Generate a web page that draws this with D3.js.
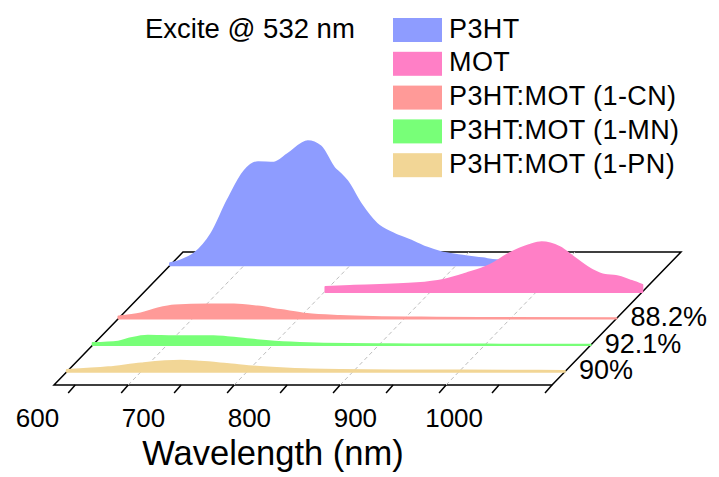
<!DOCTYPE html>
<html>
<head>
<meta charset="utf-8">
<script src="https://cdn.jsdelivr.net/npm/d3@7"></script>
<style>
    body { margin: 0; background: #fff; }
    svg { display: block; font-family: Arial, "Liberation Sans", sans-serif; }
</style>
</head>
<body>
<svg id="chart" width="719" height="477"></svg>
<script>
// PL spectra, stacked back-to-front on a slanted floor (Origin style 3D wall)

const seriesNames = ["P3HT", "MOT", "P3HT:MOT (1-CN)", "P3HT:MOT (1-MN)", "P3HT:MOT (1-PN)"];
const quenchLabels = ["", "", "88.2%", "92.1%", "90%"];

// wavelength (nm) / intensity (a.u., P3HT peak = 100)
const wlP3HT = [580, 590, 603, 619, 634, 650, 663, 678, 691, 710, 722, 735, 741, 747, 760, 775, 791, 807, 822, 835, 854, 875, 888, 920, 960];
const intP3HT = [1.6, 4, 9.6, 25.6, 52, 76, 83.2, 82.8, 89.6, 100, 96, 78.4, 73.6, 68, 49.6, 33.6, 25.6, 20, 14.4, 10.8, 8, 5.6, 4, 2.8, 2];

const wlMOT = [751, 774, 837, 862, 884, 906, 925, 943, 955, 972, 987, 1003, 1015, 1025, 1040, 1050];
const intMOT = [4, 4.8, 6.9, 9.6, 14.9, 21.6, 31.2, 37.6, 40, 36, 26.9, 17.6, 13.6, 12.8, 8.8, 5.6];

const wlCN = [580, 601, 617, 633, 664, 689, 711, 733, 758, 789, 820, 880, 950, 1050];
const intCN = [1.6, 4, 8, 10.4, 11.2, 11.2, 9.6, 6.8, 3.6, 2, 1.2, 0.7, 0.4, 0.2];

const wlMN = [580, 604, 616, 632, 657, 682, 694, 707, 735, 767, 798, 860, 950, 1050];
const intMN = [1.6, 2.8, 5.6, 7.6, 7.2, 7.2, 7.2, 6.4, 4, 2, 1, 0.6, 0.4, 0.2];

const wlPN = [580, 619, 650, 687, 706, 731, 759, 791, 838, 900, 1000, 1050];
const intPN = [1.4, 3.5, 6.7, 8.8, 8, 6.2, 4, 2.4, 1.4, 1, 0.8, 0.6];

const xTicks = [600, 650, 700, 750, 800, 850, 900, 950, 1000, 1050];
const xTickLabels = [600, 700, 800, 900, 1000];
const gridWl = [650, 750, 850, 950];

const colors = ["#8e9cff", "#ff7fc6", "#ff9a98", "#78ff78", "#f2d696"];

const spectra = [
    { wl: wlP3HT, val: intP3HT },
    { wl: wlMOT, val: intMOT },
    { wl: wlCN, val: intCN },
    { wl: wlMN, val: intMN },
    { wl: wlPN, val: intPN }
];

const svg = d3.select("#chart");

// floor geometry
const frontY = 385;
const depthDx = 129, depthDy = 133;

const x = d3.scaleLinear().domain([580, 1050]).range([54, 552]);
const h = d3.scaleLinear().domain([0, 100]).range([0, 124]);
const z = d3.scalePoint().domain(seriesNames).range([1, 0]).padding(0.5);

// floor outline
const x0 = x.range()[0], x1 = x.range()[1];
svg.append("path")
    .attr("d", `M${x0},${frontY}L${x1},${frontY}L${x1 + depthDx},${frontY - depthDy}L${x0 + depthDx},${frontY - depthDy}Z`)
    .attr("fill", "#fff")
    .attr("stroke", "#000")
    .attr("stroke-width", 1.5)
    .attr("stroke-linejoin", "miter");

// dashed floor grid
svg.append("g").selectAll("line")
    .data(gridWl)
    .join("line")
    .attr("x1", d => x(d)).attr("y1", frontY)
    .attr("x2", d => x(d) + depthDx).attr("y2", frontY - depthDy)
    .attr("stroke", "#bdbdbd")
    .attr("stroke-width", 1)
    .attr("stroke-dasharray", "4,3");

// spectra, back row first
const area = d3.area()
    .x(d => x(d[0]))
    .y0(frontY)
    .y1(d => frontY - h(d[1]))
    .curve(d3.curveMonotoneX);

seriesNames.forEach((name, i) => {
    const s = spectra[i];
    const pts = s.wl.map((w, k) => [w, s.val[k]]);
    const depth = z(name);
    svg.append("g")
        .attr("transform", `translate(${depth * depthDx},${-depth * depthDy})`)
        .append("path")
        .attr("d", area(pts))
        .attr("fill", colors[i])
        .attr("stroke", colors[i])
        .attr("stroke-width", 2)
        .attr("stroke-linejoin", "round");

    if (quenchLabels[i]) {
        svg.append("text")
            .attr("x", x1 + depth * depthDx + 14)
            .attr("y", frontY - depth * depthDy - 2)
            .attr("dy", "0.36em")
            .attr("font-size", 27)
            .text(quenchLabels[i]);
    }
});

// x ticks, slanted toward the viewer
svg.append("g").selectAll("line")
    .data(xTicks)
    .join("line")
    .attr("x1", d => x(d)).attr("y1", frontY)
    .attr("x2", d => x(d) - 7).attr("y2", frontY + 8)
    .attr("stroke", "#000")
    .attr("stroke-width", 1.5);

svg.append("g").selectAll("text")
    .data(xTickLabels)
    .join("text")
    .attr("x", d => x(d) - 16)
    .attr("y", 427)
    .attr("text-anchor", "end")
    .attr("font-size", 26)
    .text(d => d);

svg.append("text")
    .attr("x", 273)
    .attr("y", 465)
    .attr("text-anchor", "middle")
    .attr("font-size", 34.5)
    .text("Wavelength (nm)");

svg.append("text")
    .attr("x", 145)
    .attr("y", 38)
    .attr("font-size", 27.5)
    .text("Excite @ 532 nm");

// legend
const legend = svg.append("g").attr("transform", "translate(393,18)");
const rows = legend.selectAll("g")
    .data(seriesNames)
    .join("g")
    .attr("transform", (d, i) => `translate(0,${i * 33.8})`);
rows.append("rect")
    .attr("width", 49).attr("height", 24)
    .attr("fill", (d, i) => colors[i]);
rows.append("text")
    .attr("x", 56)
    .attr("y", 19.5)
    .attr("font-size", 27)
    .attr("letter-spacing", 0.4)
    .text(d => d);
</script>
</body>
</html>
